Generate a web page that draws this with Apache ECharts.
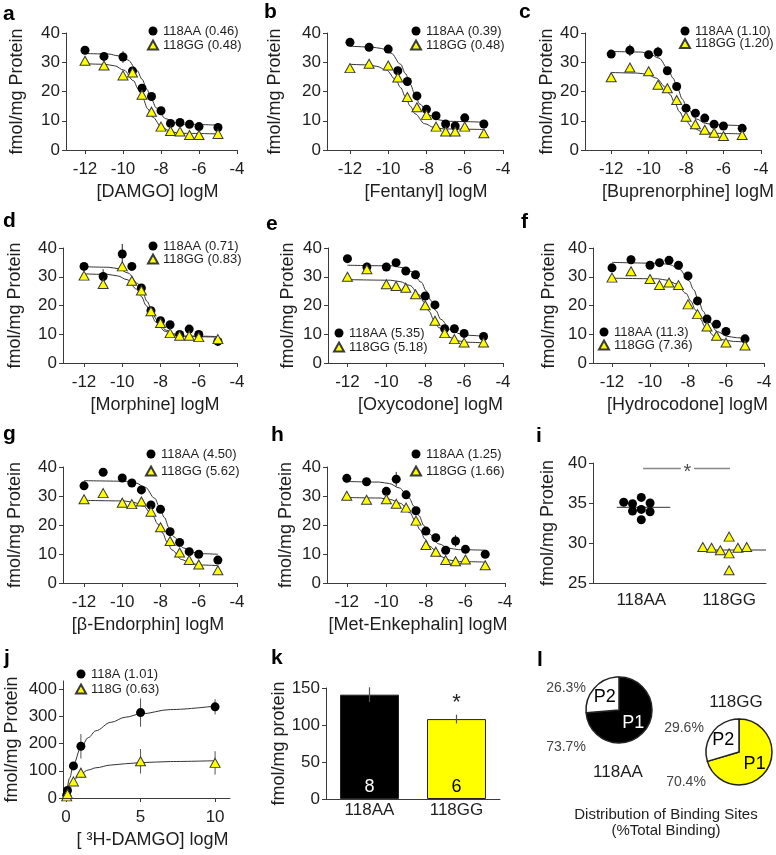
<!DOCTYPE html>
<html><head><meta charset="utf-8">
<script src="https://cdn.jsdelivr.net/npm/echarts@6/dist/echarts.min.js"></script>
<style>html,body{margin:0;padding:0;background:#fff}#c{width:776px;height:855px}</style>
</head><body><div id="c"></div>
<script>
// ---------------- DATA ----------------
const logConc = [-12,-11,-10,-9.5,-9,-8.5,-8,-7.5,-7,-6.5,-6,-5];
const xTickVals = [-12,-10,-8,-6,-4];
const yTickVals = [0,10,20,30,40];
const drugs = ['DAMGO','Fentanyl','Buprenorphine','Morphine','Oxycodone','Hydrocodone','β-Endorphin','Met-Enkephalin'];
const kiAA = ['0.46','0.39','1.10','0.71','5.35','11.3','4.50','1.25'];
const kiGG = ['0.48','0.48','1.20','0.83','5.18','7.36','5.62','1.66'];

const aAA = [34.1,32.0,31.8,27.0,21.1,18.3,13.4,9.1,9.4,8.8,8.0,7.7];
const aGG = [30.5,28.9,25.5,26.5,18.9,13.1,8.0,6.5,6.3,5.1,5.1,5.5];
const bAA = [36.8,35.1,34.5,27.1,23.4,18.5,13.9,11.7,8.9,8.2,11.0,8.9];
const bGG = [28.0,29.5,28.9,24.8,18.1,14.6,12.0,8.0,6.3,6.3,8.0,5.7];
const cAA = [32.8,34.1,32.6,33.5,27.1,21.7,14.3,12.6,10.9,8.8,8.2,7.4];
const cGG = [24.9,28.2,26.9,22.3,21.1,17.1,11.4,8.8,6.9,5.9,4.8,5.1];
const dAA = [33.6,30.1,37.9,33.6,26.1,18.2,14.7,13.3,9.9,11.8,9.9,7.5];
const dGG = [30.4,27.5,33.6,28.6,25.2,18.0,13.9,10.4,9.5,9.5,9.0,8.3];
const eAA = [36.3,33.4,33.4,34.9,32.0,30.7,23.3,20.2,11.9,11.9,10.3,9.2];
const eGG = [30.0,32.6,27.4,26.8,26.2,23.9,20.1,14.7,10.4,8.3,7.1,7.1];
const fAA = [33.1,35.9,34.0,34.9,35.7,34.0,30.3,21.6,15.3,13.5,11.0,8.4];
const fGG = [29.7,31.9,29.2,27.1,28.0,27.1,20.4,17.0,12.7,9.5,7.1,6.1];
const gAA = [33.5,38.2,36.2,34.5,32.1,26.9,25.4,17.7,14.0,10.8,9.9,7.9];
const gGG = [28.9,31.0,27.7,27.2,28.1,24.6,19.2,14.5,10.5,7.9,6.4,4.4];
const hAA = [36.1,34.9,31.6,35.8,30.4,24.9,17.9,15.6,11.3,14.5,11.6,9.9];
const hGG = [30.1,28.7,28.9,27.3,26.0,21.5,13.1,10.8,7.9,7.5,8.1,6.1];

// fitted curves [logM, fmol/mg]
const aFitAA = [[-12,33.0],[-10.75,32.8],[-10.25,32.2],[-9.75,30.8],[-9.25,27.1],[-9.0,24.2],[-8.75,20.8],[-8.5,17.3],[-8.25,14.4],[-7.75,10.7],[-7.25,9.3],[-6.75,8.8],[-5,8.5]];
const aFitGG = [[-12,29.5],[-10.95,29.3],[-10.45,28.8],[-9.95,27.3],[-9.45,23.7],[-9.2,20.9],[-8.95,17.5],[-8.7,14.1],[-8.45,11.3],[-7.95,7.7],[-7.45,6.2],[-6.95,5.7],[-5,5.5]];
const bFitAA = [[-12,35.5],[-10.85,35.2],[-10.35,34.7],[-9.85,33.1],[-9.35,29.3],[-9.1,26.1],[-8.85,22.5],[-8.6,18.9],[-8.35,15.7],[-7.85,11.9],[-7.35,10.3],[-6.85,9.8],[-5,9.5]];
const bFitGG = [[-12,29.3],[-11.1,29.1],[-10.6,28.6],[-10.1,27.3],[-9.6,24.0],[-9.35,21.3],[-9.1,18.2],[-8.85,15.0],[-8.6,12.4],[-8.1,9.0],[-7.6,7.7],[-7.1,7.2],[-5,7.0]];
const cFitAA = [[-12,33.7],[-10.45,33.5],[-9.95,32.9],[-9.45,31.4],[-8.95,27.6],[-8.7,24.6],[-8.45,21.0],[-8.2,17.4],[-7.95,14.4],[-7.45,10.6],[-6.95,9.1],[-6.45,8.6],[-5,8.3]];
const cFitGG = [[-12,26.5],[-10.6,26.3],[-10.1,25.9],[-9.6,24.6],[-9.1,21.5],[-8.85,18.9],[-8.6,16.0],[-8.35,13.1],[-8.1,10.5],[-7.6,7.4],[-7.1,6.2],[-6.6,5.7],[-5,5.5]];
const dFitAA = [[-12,33.5],[-10.7,33.3],[-10.2,32.8],[-9.7,31.3],[-9.2,27.7],[-8.95,24.8],[-8.7,21.4],[-8.45,18.0],[-8.2,15.0],[-7.7,11.4],[-7.2,10.0],[-6.7,9.4],[-5,9.2]];
const dFitGG = [[-12,31.0],[-10.75,30.8],[-10.25,30.3],[-9.75,29.0],[-9.25,25.7],[-9.0,23.1],[-8.75,20.0],[-8.5,16.9],[-8.25,14.3],[-7.75,11.0],[-7.25,9.7],[-6.75,9.2],[-5,9.0]];
const eFitAA = [[-12,34.0],[-9.7,33.8],[-9.2,33.2],[-8.7,31.8],[-8.2,28.1],[-7.95,25.1],[-7.7,21.7],[-7.45,18.2],[-7.2,15.2],[-6.7,11.6],[-6.2,10.1],[-5.7,9.6],[-5,9.3]];
const eFitGG = [[-12,29.0],[-9.8,28.8],[-9.3,28.3],[-8.8,27.0],[-8.3,23.7],[-8.05,21.1],[-7.8,18.0],[-7.55,14.9],[-7.3,12.3],[-6.8,9.0],[-6.3,7.7],[-5.8,7.2],[-5,7.0]];
const fFitAA = [[-12,35.0],[-9.45,34.7],[-8.95,34.2],[-8.45,32.6],[-7.95,28.6],[-7.7,25.5],[-7.45,21.8],[-7.2,18.0],[-6.95,14.9],[-6.45,10.9],[-5.95,9.3],[-5.45,8.8],[-5,8.6]];
const fFitGG = [[-12,29.5],[-9.6,29.3],[-9.1,28.8],[-8.6,27.5],[-8.1,24.2],[-7.85,21.5],[-7.6,18.4],[-7.35,15.3],[-7.1,12.6],[-6.6,9.3],[-6.1,8.0],[-5.6,7.5],[-5,7.3]];
const gFitAA = [[-12,35.3],[-9.8,35.1],[-9.3,34.5],[-8.8,33.0],[-8.3,29.2],[-8.05,26.1],[-7.8,22.6],[-7.55,19.0],[-7.3,15.9],[-6.8,12.1],[-6.3,10.6],[-5.8,10.1],[-5,9.9]];
const gFitGG = [[-12,28.5],[-9.9,28.3],[-9.4,27.8],[-8.9,26.5],[-8.4,23.1],[-8.15,20.4],[-7.9,17.3],[-7.65,14.1],[-7.4,11.4],[-6.9,8.1],[-6.4,6.7],[-5.9,6.2],[-5,6.0]];
const hFitAA = [[-12,35.0],[-10.35,34.8],[-9.85,34.3],[-9.35,32.8],[-8.85,29.3],[-8.6,26.5],[-8.35,23.2],[-8.1,19.8],[-7.85,17.0],[-7.35,13.5],[-6.85,12.0],[-6.35,11.5],[-5,11.3]];
const hFitGG = [[-12,29.5],[-10.3,29.3],[-9.8,28.8],[-9.3,27.5],[-8.8,24.2],[-8.55,21.5],[-8.3,18.4],[-8.05,15.2],[-7.8,12.6],[-7.3,9.2],[-6.8,7.9],[-6.3,7.4],[-5,7.2]];

// error bars [logM, mean, sem]
const aErr = [[-10,31.8,2.0],[-8.5,18.3,1.5],[-9,21.1,1.2]];
const bErr = [[-12,36.8,1.2],[-9,23.4,1.0]];
const cErr = [[-11,34.1,2.0],[-9.5,33.5,1.8]];
const dErr = [[-10,37.9,3.5],[-11,30.1,2.5]];
const eErr = [[-11,33.4,1.5],[-8.5,30.7,1.0]];
const fErr = [[-11,35.9,1.5],[-7.5,21.6,1.0]];
const gErr = [[-11,31.0,1.5],[-8.5,26.9,1.0]];
const hErr = [[-12,36.1,1.5],[-9.5,35.8,2.5],[-6.5,14.5,2.0],[-9,30.4,1.2]];

// panel i
const iCats = ['118AA','118GG'];
const iAAx = [0.8,0.9,1.0,1.1,0.9,1.0,1.1,1.0];
const iAA  = [35.1,34.9,35.7,35.0,34.0,34.2,33.9,32.9];
const iGGx = [1.7,1.8,1.9,2.0,2.0,2.1,2.2,2.0];
const iGG  = [29.5,29.4,29.1,30.8,28.7,29.4,29.5,26.6];
const iTicks = [25,30,35,40];

// panel j
const jConc = [0.05,0.1,0.5,1,5,10];
const jAA = [10,28,118,190,314,335];
const jGG = [6,15,61,93,135,129];
const jErrAA = [0,0,10,45,52,28];
const jErrGG = [0,0,8,18,45,43];
const jFitAA = [[0,0],[0.25,74],[0.5,124],[1,185],[1.5,222],[2,247],[3,278],[4,297],[5,309],[7,325],[10,338]];
const jFitGG = [[0,0],[0.25,42],[0.5,65],[1,90],[1.5,103],[2,111],[3,121],[4,126],[5,130],[7,134],[10,137]];
const jKd = ['1.01','0.63'];
const jXTicks = [0,5,10];
const jYTicks = [0,100,200,300,400];

// panel k
const kCats = ['118AA','118GG'];
const kVals = [141,108];
const kErr = [10,6];
const kN = [8,6];
const kSig = ['','*'];
const kTicks = [0,50,100,150];

// panel l
const lAA = [73.7,26.3];
const lGG = [70.4,29.6];
const lNames = ['P1','P2'];

// ---------------- STYLE / LAYOUT ----------------
const FONT = '"Liberation Sans", Arial, Helvetica, sans-serif';
const TXT = '#1e1e1e';
const AX = '#3a3a3a';
const YEL = '#ffff00';

const doseAA=[aAA,bAA,cAA,dAA,eAA,fAA,gAA,hAA];
const doseGG=[aGG,bGG,cGG,dGG,eGG,fGG,gGG,hGG];
const doseFitAA=[aFitAA,bFitAA,cFitAA,dFitAA,eFitAA,fFitAA,gFitAA,hFitAA];
const doseFitGG=[aFitGG,bFitGG,cFitGG,dFitGG,eFitGG,fFitGG,gFitGG,hFitGG];
const doseErr=[aErr,bErr,cErr,dErr,eErr,fErr,gErr,hErr];

const doseLayout = [
 {letter:'a', box:[66,33,171,117],  xmin:-13,   yGap:40, xShift:6,  leg:[152,31,14],   lp:[3,21]},
 {letter:'b', box:[327,33,176,117], xmin:-13.2, yGap:43, xShift:11, leg:[415,31,14],   lp:[264,19]},
 {letter:'c', box:[585,33,186,117], xmin:-13.4, yGap:28, xShift:15, leg:[684,31,12.5], lp:[519,19]},
 {letter:'d', box:[63,248,174,115], xmin:-13.1, yGap:39, xShift:5,  leg:[152,246,13],  lp:[3,228]},
 {letter:'e', box:[328,248,175,115],xmin:-13,   yGap:31, xShift:15, leg:[338,333,14],  lp:[266,231]},
 {letter:'f', box:[593,248,171,115],xmin:-13,   yGap:35, xShift:9,  leg:[603,332,13],  lp:[521,229]},
 {letter:'g', box:[63,467,174,116], xmin:-13.1, yGap:39, xShift:-2, leg:[150,454,17],  lp:[3,441]},
 {letter:'h', box:[327,467,178,116],xmin:-13,   yGap:32, xShift:2,  leg:[415,454,17],  lp:[271,442]}
];

const grid=[], xAxis=[], yAxis=[], series=[], legend=[], graphic=[];

function txt(s,x,y,o){
  graphic.push({type:'text', x:x, y:y, silent:true, z:50,
    style:Object.assign({text:s, fontSize:17, fontFamily:FONT, fill:TXT, align:'center', verticalAlign:'middle'}, o||{})});
}
function letter(s,p){ txt(s,p[0],p[1]+4,{fontSize:21,fontWeight:'bold',align:'left',verticalAlign:'bottom',fill:'#000'}); }
function pad(shift){ return shift>=0 ? [0,0,0,2*shift] : [0,-2*shift,0,0]; }

function mkX(gi,o){
  return {gridIndex:gi, type:o.type||'value', min:o.min, max:o.max, data:o.data,
    name:o.name, nameLocation:'middle', nameGap:o.gap,
    nameTextStyle:{fontSize:18,color:TXT,fontFamily:FONT,padding:pad(o.shift||0)},
    axisLine:{show:true,onZero:false,lineStyle:{color:AX,width:1}},
    axisTick:{show:o.tick!==false,length:4,customValues:o.ticks,lineStyle:{color:AX}},
    axisLabel:{customValues:o.ticks,fontSize:17,color:TXT,fontFamily:FONT,margin:o.margin,formatter:o.fmt},
    splitLine:{show:false}};
}
function mkY(gi,o){
  return {gridIndex:gi, type:'value', min:o.min, max:o.max,
    name:o.name, nameLocation:'middle', nameGap:o.gap, nameRotate:90,
    nameTextStyle:{fontSize:18,color:TXT,fontFamily:FONT},
    axisLine:{show:true,onZero:false,lineStyle:{color:AX,width:1}},
    axisTick:{show:true,length:4,customValues:o.ticks,lineStyle:{color:AX}},
    axisLabel:{customValues:o.ticks,fontSize:17,color:TXT,fontFamily:FONT,margin:6},
    splitLine:{show:false}};
}
function fitLine(gi,data){
  return {type:'line', xAxisIndex:gi, yAxisIndex:gi, data:data, smooth:0.35, smoothMonotone:'x',
    symbol:'none', silent:true, z:2, lineStyle:{color:'#333',width:1}};
}
function errBars(gi,data,color){
  return {type:'custom', xAxisIndex:gi, yAxisIndex:gi, data:data, z:1, silent:true, encode:{x:0,y:1},
    renderItem:function(params,api){
      const x=api.value(0), y=api.value(1), e=api.value(2);
      const t=api.coord([x,y+e]), b=api.coord([x,y-e]);
      return {type:'line', shape:{x1:t[0],y1:t[1],x2:b[0],y2:b[1]}, style:{stroke:color,lineWidth:1}};
    }};
}
function mkLegend(pos,names){
  return {show:true, orient:'vertical', left:pos[0]-5, top:pos[1]-6.5, itemGap:pos[2]-13,
    itemWidth:10, itemHeight:9, padding:0, selectedMode:false,
    textStyle:{fontSize:13,lineHeight:13,color:TXT,fontFamily:FONT},
    data:[{name:names[0],icon:'circle'},{name:names[1],icon:'triangle'}]};
}
const circleStyle = {color:'#000', opacity:1};
const triStyle = {color:YEL, borderColor:'#3a3a3a', borderWidth:1, opacity:1};

// ---------- dose-response panels a-h ----------
doseLayout.forEach(function(L,p){
  const gi=grid.length;
  grid.push({left:L.box[0], top:L.box[1], width:L.box[2], height:L.box[3]});
  xAxis.push(mkX(gi,{min:L.xmin,max:-4,ticks:xTickVals,name:'['+drugs[p]+'] logM',gap:33,shift:L.xShift,margin:11}));
  yAxis.push(mkY(gi,{min:0,max:40,ticks:yTickVals,name:'fmol/mg Protein',gap:L.yGap}));
  const nAA='118AA ('+kiAA[p]+')', nGG='118GG ('+kiGG[p]+')';
  series.push(fitLine(gi,doseFitAA[p]), fitLine(gi,doseFitGG[p]), errBars(gi,doseErr[p],'#222'));
  series.push({type:'scatter', name:nAA, xAxisIndex:gi, yAxisIndex:gi, z:3,
    data:logConc.map(function(x,i){return [x,doseAA[p][i]];}), symbol:'circle', symbolSize:9, itemStyle:circleStyle});
  series.push({type:'scatter', name:nGG, xAxisIndex:gi, yAxisIndex:gi, z:4,
    data:logConc.map(function(x,i){return [x,doseGG[p][i]];}), symbol:'triangle', symbolSize:[10,9], itemStyle:triStyle});
  legend.push(mkLegend(L.leg,[nAA,nGG]));
  letter(L.letter,L.lp);
});

// ---------- panel i ----------
(function(){
  const gi=grid.length;
  grid.push({left:593, top:463, width:173, height:120});
  xAxis.push(mkX(gi,{min:0.45,max:2.42,ticks:[1,2],tick:false,margin:9,fmt:function(v){return iCats[Math.round(v)-1];}}));
  yAxis.push(mkY(gi,{min:25,max:40,ticks:iTicks,name:'fmol/mg Protein',gap:36}));
  const mAA=iAA.reduce(function(s,v){return s+v;},0)/iAA.length;
  const mGG=iGG.reduce(function(s,v){return s+v;},0)/iGG.length;
  const lineSt={color:'#333',width:1};
  series.push({type:'line',xAxisIndex:gi,yAxisIndex:gi,data:[[0.72,mAA],[1.33,mAA]],symbol:'none',silent:true,lineStyle:lineSt,z:2});
  series.push({type:'line',xAxisIndex:gi,yAxisIndex:gi,data:[[1.66,mGG],[2.42,mGG]],symbol:'none',silent:true,lineStyle:lineSt,z:2});
  const sigY=39.3;
  series.push({type:'line',xAxisIndex:gi,yAxisIndex:gi,data:[[1.02,sigY],[1.45,sigY]],symbol:'none',silent:true,lineStyle:{color:'#888',width:1.5},z:2});
  series.push({type:'line',xAxisIndex:gi,yAxisIndex:gi,data:[[1.60,sigY],[2.01,sigY]],symbol:'none',silent:true,lineStyle:{color:'#888',width:1.5},z:2});
  series.push({type:'scatter',xAxisIndex:gi,yAxisIndex:gi,data:[[1.525,sigY]],symbolSize:0,silent:true,
    label:{show:true,position:'inside',formatter:'*',fontSize:20,color:'#222',fontFamily:FONT,offset:[0,4]}});
  series.push({type:'scatter',xAxisIndex:gi,yAxisIndex:gi,z:3,data:iAAx.map(function(x,i){return [x,iAA[i]];}),symbol:'circle',symbolSize:9,itemStyle:circleStyle});
  series.push({type:'scatter',xAxisIndex:gi,yAxisIndex:gi,z:4,data:iGGx.map(function(x,i){return [x,iGG[i]];}),symbol:'triangle',symbolSize:[10,9],itemStyle:triStyle});
  letter('i',[536,443]);
})();

// ---------- panel j ----------
(function(){
  const gi=grid.length;
  grid.push({left:63, top:681, width:167, height:117});
  xAxis.push(mkX(gi,{min:-0.2,max:11,ticks:jXTicks,name:'[ ³H-DAMGO] logM',gap:33,shift:6,margin:11}));
  yAxis.push(mkY(gi,{min:0,max:430,ticks:jYTicks,name:'fmol/mg Protein',gap:42}));
  const nA='118A ('+jKd[0]+')', nG='118G ('+jKd[1]+')';
  series.push(fitLine(gi,jFitAA), fitLine(gi,jFitGG));
  series.push(errBars(gi,jConc.map(function(x,i){return [x,jAA[i],jErrAA[i]];}),'#555'));
  series.push(errBars(gi,jConc.map(function(x,i){return [x,jGG[i],jErrGG[i]];}),'#555'));
  series.push({type:'scatter',name:nA,xAxisIndex:gi,yAxisIndex:gi,z:3,data:jConc.map(function(x,i){return [x,jAA[i]];}),symbol:'circle',symbolSize:9,itemStyle:circleStyle});
  series.push({type:'scatter',name:nG,xAxisIndex:gi,yAxisIndex:gi,z:4,data:jConc.map(function(x,i){return [x,jGG[i]];}),symbol:'triangle',symbolSize:[10,9],itemStyle:triStyle});
  legend.push(mkLegend([80,674,15],[nA,nG]));
  letter('j',[4,665]);
})();

// ---------- panel k ----------
(function(){
  const gi=grid.length;
  grid.push({left:326, top:688, width:174, height:111});
  xAxis.push(mkX(gi,{type:'category',data:kCats,tick:false,margin:3}));
  yAxis.push(mkY(gi,{min:0,max:150,ticks:kTicks,name:'fmol/mg protein',gap:36}));
  const cols=['#000',YEL], lab=['#fff','#000'];
  series.push({type:'bar',xAxisIndex:gi,yAxisIndex:gi,barWidth:59,z:2,silent:true,
    data:kVals.map(function(v,i){return {value:v,itemStyle:{color:cols[i],borderColor:'#222',borderWidth:1},
      label:{show:true,position:'insideBottom',distance:3,formatter:String(kN[i]),color:lab[i],fontSize:18,fontFamily:FONT}};})});
  series.push({type:'custom',xAxisIndex:gi,yAxisIndex:gi,z:5,silent:true,encode:{x:0,y:1},
    data:kVals.map(function(v,i){return [i,v,kErr[i]];}),
    renderItem:function(params,api){
      const i=api.value(0), v=api.value(1), e=api.value(2);
      const t=api.coord([i,v+e]), b=api.coord([i,v-e]);
      const ch=[{type:'line',shape:{x1:t[0],y1:t[1],x2:b[0],y2:b[1]},style:{stroke:'#555',lineWidth:1.2}}];
      if(kSig[i]) ch.push({type:'text',x:t[0],y:t[1]-12,style:{text:kSig[i],fontSize:22,fontFamily:FONT,fill:'#222',align:'center',verticalAlign:'middle'}});
      return {type:'group',children:ch};
    }});
  letter('k',[271,665]);
})();

// ---------- panel l ----------
(function(){
  function pie(center,vals,p1col,p1lab){
    return {type:'pie',center:center,radius:33,startAngle:90,clockwise:true,silent:true,
      label:{show:true,position:'inside',formatter:'{b}',fontSize:18,fontFamily:FONT,color:'#000'},
      labelLine:{show:false}, itemStyle:{borderColor:'#222',borderWidth:1.5},
      data:[{name:lNames[0],value:vals[0],itemStyle:{color:p1col},label:{color:p1lab}},
            {name:lNames[1],value:vals[1],itemStyle:{color:'#fff'}}]};
  }
  series.push(pie([619,710],lAA,'#000','#fff'));
  series.push(pie([739,752],lGG,YEL,'#000'));
  const pc={fontSize:14,fill:'#444'};
  txt(lAA[1].toFixed(1)+'%',566,688,pc);
  txt(lAA[0].toFixed(1)+'%',566,747,pc);
  txt(lGG[1].toFixed(1)+'%',684,728,pc);
  txt(lGG[0].toFixed(1)+'%',686,782,pc);
  txt('118AA',618,772,{fontSize:17});
  txt('118GG',736,702,{fontSize:17});
  txt('Distribution of Binding Sites',666,815,{fontSize:15});
  txt('(%Total Binding)',666,831,{fontSize:15});
  letter('l',[537,667]);
})();

const chart = echarts.init(document.getElementById('c'), null, {width:776, height:855});
chart.setOption({animation:false, backgroundColor:'#fff', textStyle:{fontFamily:FONT},
  grid:grid, xAxis:xAxis, yAxis:yAxis, series:series, legend:legend, graphic:graphic});
</script></body></html>
